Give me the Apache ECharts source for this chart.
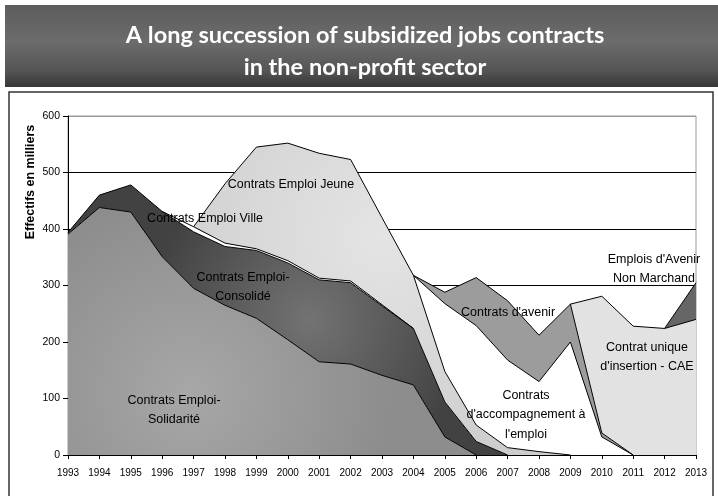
<!DOCTYPE html>
<html>
<head>
<meta charset="utf-8">
<script src="https://cdn.jsdelivr.net/npm/echarts@6/dist/echarts.min.js"></script>
<style>
  html, body { margin: 0; padding: 0; background: #fff; }
  #chart { width: 718px; height: 496px; }
</style>
</head>
<body>
<div id="chart"></div>
<script>
  // années
  var years = ["1993", "1994", "1995", "1996", "1997", "1998", "1999", "2000", "2001", "2002", "2003",
    "2004", "2005", "2006", "2007", "2008", "2009", "2010", "2011", "2012", "2013"];
  var yTicks = [0, 100, 200, 300, 400, 500, 600];

  // effectifs en milliers, par dispositif (empilés)
  var ces = [391, 438, 430, 351, 295, 265, 242, 204, 165, 161, 141, 124, 32, 0, null, null, null, null, null, null, null];
  var cec = [3, 22, 48, 80, 100, 104, 120, 136, 145, 144, 123, 100, 62, 24, 0, null, null, null, null, null, null];
  var cev = [null, null, null, 0, 9, 6, 3, 4, 3, 3, 2, 0, null, null, null, null, null, null, null, null, null];
  var cej = [null, null, null, null, 0, 105, 180, 208, 221, 215, 154, 94, 54, 29, 13, 6, 0, null, null, null, null];
  var cae = [null, null, null, null, null, null, null, null, null, null, null, 0, 120, 176, 155, 124, 200, 32, 0, null, null];
  var cav = [null, null, null, null, null, null, null, null, null, null, null, 0, 20, 85, 105, 82, 67, 7, 0, null, null];
  var cui = [null, null, null, null, null, null, null, null, null, null, null, null, null, null, null, null, 0, 242, 228, 224, 240];
  var eav = [null, null, null, null, null, null, null, null, null, null, null, null, null, null, null, null, null, null, null, 0, 65];

  var FONT = "Liberation Sans, Arial, sans-serif";

  function radial(x, y, r, c1, c2) {
    return new echarts.graphic.RadialGradient(x, y, r, [
      { offset: 0, color: c1 },
      { offset: 1, color: c2 }
    ]);
  }

  function area(name, data, fill) {
    return {
      name: name,
      type: "line",
      stack: "total",
      data: data,
      symbol: "none",
      silent: true,
      lineStyle: { color: "#000", width: 1 },
      areaStyle: { color: fill, opacity: 1 }
    };
  }

  function label(text, x, y) {
    return {
      type: "text",
      x: x,
      y: y,
      z: 100,
      style: {
        text: text,
        fill: "#000",
        font: "12.5px " + FONT,
        align: "center",
        verticalAlign: "middle",
        lineHeight: 19.5
      }
    };
  }

  var chart = echarts.init(document.getElementById("chart"));

  chart.setOption({
    animation: false,
    backgroundColor: "#fff",
    grid: {
      left: 68,
      right: 22,
      top: 116,
      bottom: 41,
      show: true,
      borderColor: "#9a9a9a",
      borderWidth: 1
    },
    xAxis: {
      type: "category",
      data: years,
      boundaryGap: false,
      axisLine: { lineStyle: { color: "#000", width: 1 } },
      axisTick: { show: true, length: 4, lineStyle: { color: "#000" } },
      axisLabel: { color: "#000", fontFamily: FONT, fontSize: 10, margin: 13, interval: 0 },
      splitLine: { show: false }
    },
    yAxis: {
      type: "value",
      min: yTicks[0],
      max: yTicks[yTicks.length - 1],
      interval: 100,
      axisLine: { show: true, lineStyle: { color: "#000", width: 1 } },
      axisTick: { show: true, length: 5, lineStyle: { color: "#000" } },
      axisLabel: { color: "#000", fontFamily: FONT, fontSize: 10.5, margin: 8 },
      splitLine: {
        show: true,
        lineStyle: { color: ["#000", "#000", "#000", "#000", "#000", "#000", "#9a9a9a"], width: 1 }
      }
    },
    series: [
      area("Contrats Emploi-Solidarité", ces, radial(0.3, 0.75, 0.8, "#a7a7a7", "#8d8d8d")),
      area("Contrats Emploi-Consolidé", cec, radial(0.55, 0.5, 0.6, "#737373", "#424242")),
      area("Contrats Emploi Ville", cev, "#ffffff"),
      area("Contrats Emploi Jeune", cej, radial(0.5, 0.3, 0.8, "#e4e4e4", "#cdcdcd")),
      area("Contrats d'accompagnement à l'emploi", cae, "#ffffff"),
      area("Contrats d'avenir", cav, "#9c9c9c"),
      area("Contrat unique d'insertion - CAE", cui, "#e2e2e2"),
      area("Emplois d'Avenir Non Marchand", eav, "#666666")
    ],
    graphic: [
      {
        type: "rect",
        z: 0,
        shape: { x: 5, y: 5, width: 713, height: 82 },
        style: {
          fill: new echarts.graphic.LinearGradient(0, 0, 0, 1, [
            { offset: 0, color: "#5c5c5c" },
            { offset: 0.45, color: "#6c6c6c" },
            { offset: 0.8, color: "#555555" },
            { offset: 1, color: "#363636" }
          ])
        }
      },
      {
        type: "text",
        x: 365,
        y: 51,
        z: 1,
        style: {
          text: "A long succession of subsidized jobs contracts\nin the non-profit sector",
          fill: "#fff",
          font: "bold 23.5px Lato, 'Open Sans', sans-serif",
          align: "center",
          verticalAlign: "middle",
          lineHeight: 32
        }
      },
      {
        type: "rect",
        z: 0,
        shape: { x: 9, y: 92, width: 704, height: 420 },
        style: { fill: "none", stroke: "#333", lineWidth: 1.5 }
      },
      {
        type: "text",
        x: 31,
        y: 182,
        z: 100,
        rotation: Math.PI / 2,
        style: {
          text: "Effectifs en milliers",
          fill: "#000",
          font: "bold 12.5px " + FONT,
          align: "center",
          verticalAlign: "middle"
        }
      },
      label("Contrats Emploi Jeune", 291, 185),
      label("Contrats Emploi Ville", 205, 219),
      label("Contrats Emploi-\nConsolidé", 243, 287),
      label("Contrats Emploi-\nSolidarité", 174, 410),
      label("Contrats d'avenir", 508, 313),
      label("Contrats\nd'accompagnement à\nl'emploi", 526, 415),
      label("Contrat unique\nd'insertion - CAE", 647, 357),
      label("Emplois d'Avenir\nNon Marchand", 654, 269)
    ]
  });
</script>
</body>
</html>
